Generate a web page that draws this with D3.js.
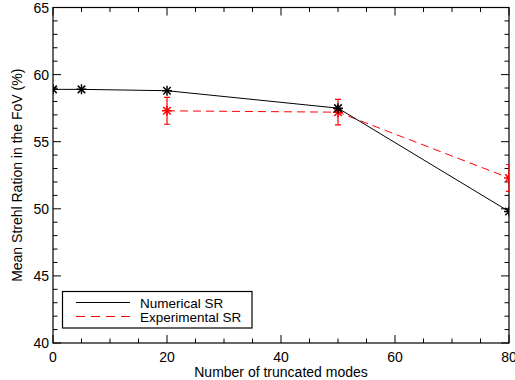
<!DOCTYPE html>
<html><head><meta charset="utf-8">
<script src="https://cdn.jsdelivr.net/npm/d3@7"></script>
<style>body{margin:0;background:#fff}svg{display:block}text{font-family:"Liberation Sans",Arial,sans-serif;}</style>
</head><body>
<script>
const numX = [0, 5, 20, 50, 80];
const numY = [58.9, 58.9, 58.8, 57.5, 49.8];
const expX = [20, 50, 80];
const expY = [57.3, 57.2, 52.3];
const expErr = [1.0, 0.95, 1.0];
const xTicks = [0, 20, 40, 60, 80];
const yTicks = [40, 45, 50, 55, 60, 65];
const seriesNames = ["Numerical SR", "Experimental SR"];

const W = 515, H = 380;
const m = {l: 53, r: 6, t: 7.5, b: 37};
const svg = d3.select("body").append("svg").attr("width", W).attr("height", H);
const x = d3.scaleLinear().domain([0, 80]).range([m.l, W - m.r]);
const y = d3.scaleLinear().domain([40, 65]).range([H - m.b, m.t]);
const x0 = x(0), x1 = x(80), y0 = y(40), y1 = y(65);

svg.append("defs").append("clipPath").attr("id", "clip")
  .append("rect").attr("x", x0).attr("y", y1).attr("width", x1 - x0).attr("height", y0 - y1);

const g = svg.append("g");
g.append("rect").attr("x", x0).attr("y", y1).attr("width", x1 - x0).attr("height", y0 - y1)
  .attr("fill", "none").attr("stroke", "#000").attr("stroke-width", 1.2);

const xMinor = d3.range(0, 81, 5), yMinor = d3.range(40, 66, 1);
const tk = g.append("g").attr("stroke", "#000").attr("stroke-width", 1);
xMinor.forEach(v => {
  const L = xTicks.includes(v) ? 8 : 4.5;
  tk.append("line").attr("x1", x(v)).attr("x2", x(v)).attr("y1", y0).attr("y2", y0 - L);
  tk.append("line").attr("x1", x(v)).attr("x2", x(v)).attr("y1", y1).attr("y2", y1 + L);
});
yMinor.forEach(v => {
  const L = yTicks.includes(v) ? 8 : 4.5;
  tk.append("line").attr("y1", y(v)).attr("y2", y(v)).attr("x1", x0).attr("x2", x0 + L);
  tk.append("line").attr("y1", y(v)).attr("y2", y(v)).attr("x1", x1).attr("x2", x1 - L);
});

g.selectAll(".xl").data(xTicks).join("text").attr("x", d => x(d)).attr("y", y0 + 19)
  .attr("text-anchor", "middle").attr("font-size", 14).attr("fill", "#000").text(d => d);
g.selectAll(".yl").data(yTicks).join("text").attr("x", x0 - 4).attr("y", d => y(d) + 5)
  .attr("text-anchor", "end").attr("font-size", 14).attr("fill", "#000").text(d => d);

svg.append("text").attr("x", (x0 + x1) / 2).attr("y", 377).attr("text-anchor", "middle")
  .attr("font-size", 14).text("Number of truncated modes");
svg.append("text").attr("transform", `translate(22,${(y0 + y1) / 2}) rotate(-90)`)
  .attr("text-anchor", "middle").attr("font-size", 14).text("Mean Strehl Ration in the FoV (%)");

const plot = svg.append("g").attr("clip-path", "url(#clip)");
const line = d3.line().x(d => x(d[0])).y(d => y(d[1]));

function star(sel, px, py, col) {
  const r = 5, d = r * 0.75;
  const gg = sel.append("g").attr("stroke", col).attr("stroke-width", 1.5);
  gg.append("line").attr("x1", px - r).attr("x2", px + r).attr("y1", py).attr("y2", py);
  gg.append("line").attr("x1", px).attr("x2", px).attr("y1", py - r).attr("y2", py + r);
  gg.append("line").attr("x1", px - d).attr("x2", px + d).attr("y1", py - d).attr("y2", py + d);
  gg.append("line").attr("x1", px - d).attr("x2", px + d).attr("y1", py + d).attr("y2", py - d);
}

const expData = expX.map((v, i) => [v, expY[i]]);
plot.append("path").datum(expData).attr("d", line).attr("fill", "none")
  .attr("stroke", "#ff0000").attr("stroke-width", 1).attr("stroke-dasharray", "8,5");
expData.forEach((d, i) => {
  const px = x(d[0]), ya = y(d[1] + expErr[i]), yb = y(d[1] - expErr[i]);
  plot.append("line").attr("x1", px).attr("x2", px).attr("y1", ya).attr("y2", yb).attr("stroke", "#ff0000").attr("stroke-width", 1.2);
  plot.append("line").attr("x1", px - 3).attr("x2", px + 3).attr("y1", ya).attr("y2", ya).attr("stroke", "#ff0000").attr("stroke-width", 1.2);
  plot.append("line").attr("x1", px - 3).attr("x2", px + 3).attr("y1", yb).attr("y2", yb).attr("stroke", "#ff0000").attr("stroke-width", 1.2);
  star(plot, px, y(d[1]), "#ff0000");
});

const numData = numX.map((v, i) => [v, numY[i]]);
plot.append("path").datum(numData).attr("d", line).attr("fill", "none")
  .attr("stroke", "#000").attr("stroke-width", 1);
numData.forEach(d => star(plot, x(d[0]), y(d[1]), "#000"));

const lg = svg.append("g");
lg.append("rect").attr("x", 62.5).attr("y", 291.5).attr("width", 189.5).attr("height", 36.5)
  .attr("fill", "#fff").attr("stroke", "#000").attr("stroke-width", 1.2);
const cols = ["#000", "#ff0000"], dash = [null, "9,6"], ly = [302.5, 316.5];
seriesNames.forEach((n, i) => {
  lg.append("line").attr("x1", 76).attr("x2", 130).attr("y1", ly[i]).attr("y2", ly[i])
    .attr("stroke", cols[i]).attr("stroke-width", 1).attr("stroke-dasharray", dash[i]);
  lg.append("text").attr("x", 140).attr("y", ly[i] + 5).attr("font-size", 13.5).text(n);
});
</script>
</body></html>
